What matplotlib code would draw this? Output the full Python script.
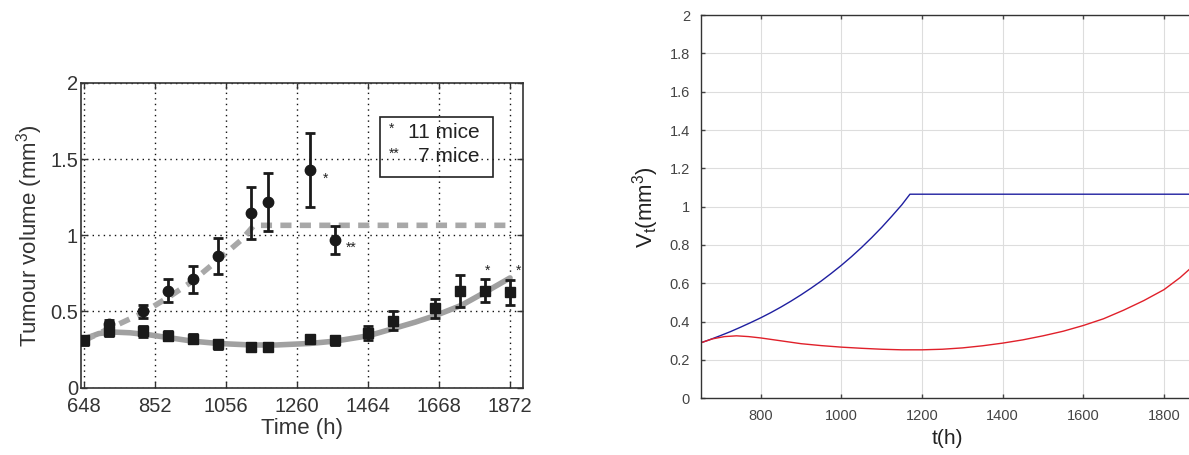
import matplotlib
matplotlib.use("Agg")
import matplotlib.pyplot as plt
from matplotlib.patches import Rectangle

plt.rcParams['font.family'] = ['Liberation Sans', 'DejaVu Sans']
plt.rcParams['mathtext.default'] = 'regular'

# left panel: measured data (h, mean, half error bar)
circ_t = [720, 816, 888, 960, 1032, 1128, 1176, 1296, 1368]
circ_v = [0.416, 0.50, 0.635, 0.71, 0.865, 1.146, 1.22, 1.428, 0.968]
circ_e = [0.03, 0.04, 0.075, 0.09, 0.12, 0.17, 0.19, 0.245, 0.09]

sq_t = [648, 720, 816, 888, 960, 1032, 1128, 1176, 1296, 1368, 1464, 1536, 1656, 1728, 1800, 1872]
sq_v = [0.31, 0.37, 0.37, 0.34, 0.32, 0.285, 0.27, 0.27, 0.32, 0.31, 0.36, 0.44, 0.52, 0.636, 0.636, 0.625]
sq_e = [0.03, 0.03, 0.035, 0.03, 0.03, 0.03, 0.02, 0.02, 0.02, 0.03, 0.045, 0.06, 0.06, 0.105, 0.075, 0.08]

# left panel: model curves
dash_t = [648, 722, 816, 895, 960, 1049, 1100, 1136, 1872]
dash_v = [0.31, 0.39, 0.49, 0.60, 0.70, 0.87, 0.97, 1.065, 1.065]
fit_t = [648, 690, 730, 780, 840, 900, 960, 1032, 1128, 1200, 1296, 1368, 1464, 1540, 1600, 1662, 1732, 1807, 1872]
fit_v = [0.32, 0.355, 0.365, 0.36, 0.345, 0.325, 0.305, 0.29, 0.28, 0.28, 0.29, 0.305, 0.34, 0.39, 0.43, 0.477, 0.54, 0.635, 0.72]

x_ticks_left = [648, 852, 1056, 1260, 1464, 1668, 1872]
y_ticks_left = [0, 0.5, 1, 1.5, 2]
y_labels_left = ['0', '0.5', '1', '1.5', '2']

# right panel: simulated volumes
blue_t = [652, 675, 700, 725, 750, 775, 800, 825, 850, 875, 900, 925, 950, 975, 1000,
          1025, 1050, 1075, 1100, 1125, 1150, 1170, 1872]
blue_v = [0.29, 0.307, 0.327, 0.348, 0.371, 0.395, 0.42, 0.447, 0.476, 0.507, 0.54, 0.575, 0.612, 0.652, 0.694,
          0.739, 0.787, 0.838, 0.892, 0.95, 1.01, 1.065, 1.065]
red_t = [652, 680, 710, 740, 770, 800, 850, 900, 950, 1000, 1050, 1100, 1150, 1200, 1250,
         1300, 1350, 1400, 1450, 1500, 1550, 1600, 1650, 1700, 1750, 1800, 1840, 1872]
red_v = [0.29, 0.31, 0.322, 0.326, 0.322, 0.315, 0.30, 0.285, 0.275, 0.267, 0.261, 0.256, 0.253, 0.253, 0.256,
         0.263, 0.274, 0.288, 0.305, 0.326, 0.35, 0.38, 0.415, 0.46, 0.51, 0.567, 0.63, 0.69]

fig = plt.figure(figsize=(11.89, 4.55), dpi=100)

# ---- left panel
ax1 = fig.add_axes([0.0679, 0.148, 0.3722, 0.670])
ax1.plot(fit_t, fit_v, color='#a0a0a0', lw=4, solid_capstyle='round', zorder=2)
ax1.plot(dash_t, dash_v, color='#a8a8a8', lw=4, ls=(0, (2.0, 1.5)), zorder=2)
ax1.errorbar(sq_t, sq_v, yerr=sq_e, fmt='s', color='#1a1a1a', ms=6.5, elinewidth=2,
             capsize=3.5, capthick=2, zorder=3)
ax1.errorbar(circ_t, circ_v, yerr=circ_e, fmt='o', color='#1a1a1a', ms=7.5, elinewidth=2,
             capsize=3.5, capthick=2, zorder=3)

ax1.text(1342, 1.373, '*', fontsize=10, ha='center', va='center', color='#222222')
ax1.text(1414, 0.918, '**', fontsize=10, ha='center', va='center', color='#222222')
ax1.text(1807, 0.765, '*', fontsize=10, ha='center', va='center', color='#222222')
ax1.text(1895, 0.77, '*', fontsize=10, ha='center', va='center', color='#222222')

ax1.add_patch(Rectangle((1499, 1.38), 324, 0.393, fill=False, ec='#222222', lw=1.2, zorder=4))
ax1.text(1532, 1.70, '*', fontsize=10, ha='center', va='center', color='#222222')
ax1.text(1578, 1.675, '11 mice', fontsize=15, ha='left', va='center', color='#222222')
ax1.text(1540, 1.535, '**', fontsize=10, ha='center', va='center', color='#222222')
ax1.text(1607, 1.515, '7 mice', fontsize=15, ha='left', va='center', color='#222222')

ax1.set_xlim(638, 1910)
ax1.set_ylim(0, 2)
ax1.set_xticks(x_ticks_left)
ax1.set_yticks(y_ticks_left)
ax1.set_yticklabels(y_labels_left)
ax1.tick_params(direction='in', length=4, width=1, labelsize=14.5, colors='#333333',
                top=True, right=True, pad=2)
ax1.tick_params(axis='x', pad=7)
ax1.grid(True, color='#111111', ls=(0, (1, 3)), lw=1)
for s in ax1.spines.values():
    s.set_color('#333333')
    s.set_linewidth(1.2)
ax1.set_xlabel('Time (h)', fontsize=16, color='#333333', labelpad=1)
ax1.set_ylabel('Tumour volume (mm$^3$)', fontsize=16, color='#333333', labelpad=4)

# ---- right panel
ax2 = fig.add_axes([0.5896, 0.1246, 0.4138, 0.8424])
ax2.plot(blue_t, blue_v, color='#1f1fa0', lw=1)
ax2.plot(red_t, red_v, color='#e0202a', lw=1)
ax2.set_xlim(652, 1872)
ax2.set_ylim(0, 2)
ax2.set_xticks([800, 1000, 1200, 1400, 1600, 1800])
ax2.set_yticks([0, 0.2, 0.4, 0.6, 0.8, 1.0, 1.2, 1.4, 1.6, 1.8, 2.0])
ax2.set_yticklabels(['0', '0.2', '0.4', '0.6', '0.8', '1', '1.2', '1.4', '1.6', '1.8', '2'])
ax2.tick_params(direction='in', length=3, width=1, labelsize=10.5, colors='#444444',
                top=True, right=True, pad=8)
ax2.grid(True, color='#dddddd', lw=0.8)
for s in ax2.spines.values():
    s.set_color('#333333')
    s.set_linewidth(1)
ax2.set_xlabel('t(h)', fontsize=15, color='#222222', labelpad=4)
ax2.set_ylabel('V$_t$(mm$^3$)', fontsize=16, color='#222222', labelpad=6)

fig.savefig('out.png', dpi=100)
